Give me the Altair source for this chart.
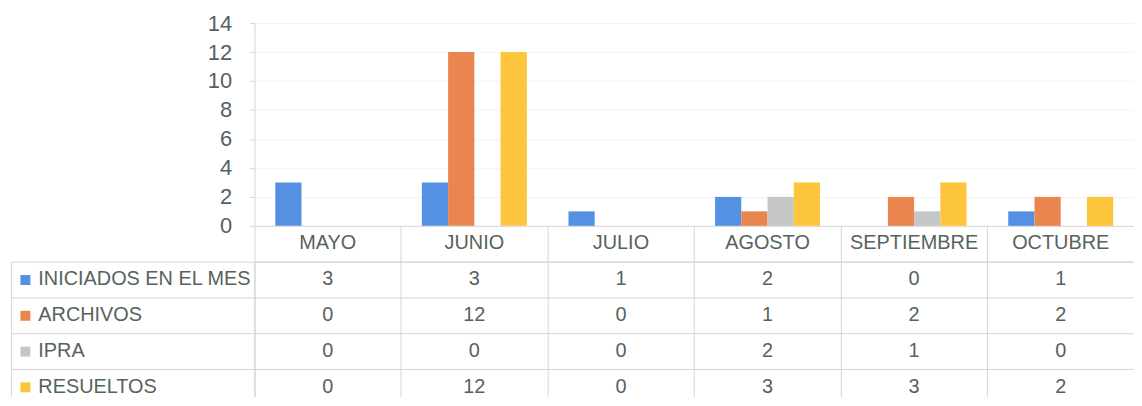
import altair as alt
import pandas as pd

months = ["MAYO", "JUNIO", "JULIO", "AGOSTO", "SEPTIEMBRE", "OCTUBRE"]
series = ["INICIADOS EN EL MES", "ARCHIVOS", "IPRA", "RESUELTOS"]
iniciados = [3, 3, 1, 2, 0, 1]
archivos = [0, 12, 0, 1, 2, 2]
ipra = [0, 0, 0, 2, 1, 0]
resueltos = [0, 12, 0, 3, 3, 2]
colors = ["#5591e3", "#ea8550", "#c4c6c8", "#fcc53c"]
y_ticks = [0, 2, 4, 6, 8, 10, 12, 14]

rows = []
for s, vals in zip(series, [iniciados, archivos, ipra, resueltos]):
    for m, v in zip(months, vals):
        rows.append({"mes": m, "serie": s, "valor": v})
df = pd.DataFrame(rows)

FONT = "Liberation Sans"
LINE = "#d6d6d6"
TXT = "#56635c"
W = 885
ROW = 36
LABELW = 245

bars = alt.Chart(df).mark_bar().encode(
    x=alt.X("mes:N", sort=months,
            scale=alt.Scale(type="band", domain=months, paddingInner=0.284,
                            paddingOuter=0.142),
            axis=alt.Axis(labels=False, ticks=False, title=None, grid=False,
                          domainColor=LINE)),
    xOffset=alt.XOffset("serie:N", sort=series,
                        scale=alt.Scale(domain=series, paddingInner=0, paddingOuter=0)),
    y=alt.Y("valor:Q", scale=alt.Scale(domain=[0, 14]),
            axis=alt.Axis(values=y_ticks, title=None, labelFontSize=22,
                          labelColor="#51606b", labelPadding=18, tickSize=5,
                          tickColor=LINE, domainColor=LINE, gridColor="#f2f2f2")),
    color=alt.Color("serie:N", sort=series,
                    scale=alt.Scale(domain=series, range=colors), legend=None),
).properties(width=W, height=204)

xscale_t = alt.Scale(type="band", domain=months, paddingInner=0, paddingOuter=0)
yscale_t = alt.Scale(type="band", domain=series, paddingInner=0, paddingOuter=0)

txt = alt.Chart(df).mark_text(fontSize=20, color=TXT, font=FONT).encode(
    x=alt.X("mes:N", sort=months, scale=xscale_t,
            axis=alt.Axis(orient="top", bandPosition=0, tickSize=ROW, tickColor=LINE,
                          grid=True, gridColor=LINE, domainColor=LINE,
                          labelPadding=-17, labelBaseline="middle", labelFontSize=20,
                          labelColor=TXT, labelAngle=0, title=None)),
    y=alt.Y("serie:N", sort=series, scale=yscale_t,
            axis=alt.Axis(orient="left", bandPosition=0, tickSize=LABELW,
                          tickColor=LINE, grid=True, gridColor=LINE, domainColor=LINE,
                          labelAlign="left", labelBaseline="middle", labelPadding=-27,
                          labelFontSize=20, labelColor=TXT, labelLimit=400,
                          title=None)),
    text=alt.Text("valor:Q"),
)

color_expr = ("datum.value === '%s' ? '%s' : datum.value === '%s' ? '%s' : "
              "datum.value === '%s' ? '%s' : '%s'") % (
    series[0], colors[0], series[1], colors[1], series[2], colors[2], colors[3])

sq = alt.Chart(df).mark_text(text="", opacity=0).encode(
    y=alt.Y("serie:N", sort=series, scale=yscale_t,
            axis=alt.Axis(orient="left", offset=226, domain=False, labels=False,
                          grid=False, tickSize=10, tickWidth=10,
                          tickColor={"expr": color_expr}, title=None)),
)

border = alt.Chart(df).mark_text(text="", opacity=0).encode(
    y=alt.Y("serie:N", sort=series, scale=yscale_t,
            axis=alt.Axis(orient="left", offset=LABELW, domain=True, domainColor=LINE,
                          labels=False, ticks=False, grid=False, title=None)),
)

table = alt.layer(txt, sq, border).resolve_axis(y="independent").properties(
    width=W, height=ROW * 4)

chart = alt.vconcat(bars, table, spacing=ROW, bounds="flush").resolve_scale(
    x="independent", y="independent"
).properties(
    padding={"left": 2, "top": 3, "right": 0, "bottom": -9}
).configure_view(stroke=None).configure_axis(labelFont=FONT).configure_text(font=FONT)

chart.save("out.html", embed_options={"renderer": "svg", "actions": False})
